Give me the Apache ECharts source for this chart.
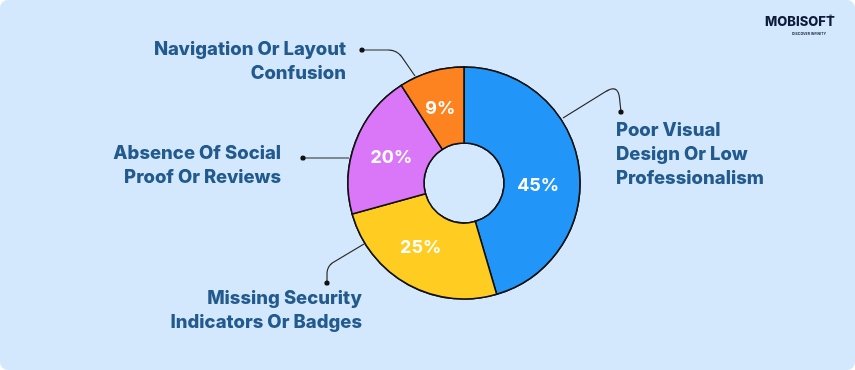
<!DOCTYPE html>
<html>
<head>
<meta charset="utf-8">
<script src="https://cdn.jsdelivr.net/npm/echarts@6/dist/echarts.min.js"></script>
<style>
html,body{margin:0;padding:0;background:#ffffff;}
#wrap{width:855px;height:370px;background:#d3e8fd;border-radius:8px;overflow:hidden;}
#chart{width:855px;height:370px;}
</style>
</head>
<body>
<div id="wrap"><div id="chart"></div></div>
<script>
// ---- data ----
const categories = [
  'Poor Visual\nDesign Or Low\nProfessionalism',
  'Missing Security\nIndicators Or Badges',
  'Absence Of Social\nProof Or Reviews',
  'Navigation Or Layout\nConfusion'
];
const values = [45, 25, 20, 9];
const colors = ['#2196f8', '#ffcd22', '#da77f8', '#fc8320'];

// ---- layout of outside labels (annotation placement) ----
const labelSpots = [
  {x: 616, y: 118, align: 'left',  line: [[563,118],[618,84],[621,112]], r: 14},
  {x: 362, y: 286, align: 'right', line: [[364,244],[327,266],[327,283]], r: 8},
  {x: 281, y: 141, align: 'right', line: [[349,158],[326,158],[303,158]], r: 0},
  {x: 346, y: 37,  align: 'right', line: [[415,76],[397,50],[362,50]], r: 9}
];
// small nudges of the inner percentage labels
const innerNudge = [[-6, 14], [-4, -6], [3, 4], [-1, 3]];

function cornerPoints(p0, p1, p2, r) {
  if (!r) return [p0, p1, p2];
  const d1 = Math.hypot(p1[0]-p0[0], p1[1]-p0[1]);
  const d2 = Math.hypot(p2[0]-p1[0], p2[1]-p1[1]);
  const a = [p1[0] - (p1[0]-p0[0]) / d1 * r, p1[1] - (p1[1]-p0[1]) / d1 * r];
  const b = [p1[0] + (p2[0]-p1[0]) / d2 * r, p1[1] + (p2[1]-p1[1]) / d2 * r];
  const pts = [p0, a];
  const n = 10;
  for (let i = 1; i < n; i++) {
    const t = i / n, u = 1 - t;
    pts.push([u*u*a[0] + 2*u*t*p1[0] + t*t*b[0], u*u*a[1] + 2*u*t*p1[1] + t*t*b[1]]);
  }
  pts.push(b, p2);
  return pts;
}

const textColor = '#235a8d';
const font = 'Inter, "Noto Sans", sans-serif';

const pieData = categories.map((c, i) => ({
  name: c, value: values[i], itemStyle: {color: colors[i]}
}));

const chart = echarts.init(document.getElementById('chart'), null, {renderer: 'canvas'});

const dots = labelSpots.map(s => ({
  type: 'circle',
  shape: {cx: s.line[2][0], cy: s.line[2][1], r: 2.6},
  style: {fill: '#111'},
  z: 100
}));

chart.setOption({
  backgroundColor: 'transparent',
  animation: false,
  series: [
    {
      type: 'pie',
      center: [464, 183],
      radius: [40, 116],
      startAngle: 90,
      clockwise: true,
      silent: true,
      data: pieData,
      itemStyle: {borderColor: '#111', borderWidth: 1.6},
      label: {
        show: true,
        position: 'outside',
        formatter: '{b}',
        color: textColor,
        fontFamily: font,
        fontWeight: 800,
        fontSize: 18.5,
        lineHeight: 24
      },
      labelLine: {
        show: true,
        lineStyle: {color: '#2b2b2b', width: 1.2}
      },
      labelLayout: function (params) {
        const s = labelSpots[params.dataIndex];
        return {
          x: s.x, y: s.y, align: s.align, verticalAlign: 'top',
          labelLinePoints: cornerPoints(s.line[0], s.line[1], s.line[2], s.r)
        };
      },
      z: 2
    },
    {
      type: 'pie',
      center: [464, 183],
      radius: [40, 116],
      startAngle: 90,
      clockwise: true,
      silent: true,
      data: pieData,
      itemStyle: {borderColor: '#111', borderWidth: 1.6},
      label: {
        show: true,
        position: 'inside',
        formatter: '{c}%',
        color: '#ffffff',
        fontFamily: font,
        fontWeight: 700,
        fontSize: 18
      },
      labelLine: {show: false},
      labelLayout: function (params) {
        const n = innerNudge[params.dataIndex];
        return {dx: n[0], dy: n[1]};
      },
      z: 3
    }
  ],
  graphic: dots.concat([
    {
      type: 'text', left: 765, top: 16, z: 100,
      style: {text: 'MOBISOFT', fill: '#0d1b3a', font: '800 13px Inter, sans-serif'}
    },
    {
      type: 'text', left: 829, top: 14, z: 100,
      style: {text: '®', fill: '#0d1b3a', font: '5px Inter, sans-serif'}
    },
    {
      type: 'text', left: 792, top: 32, z: 100,
      style: {text: 'DISCOVER INFINITY', fill: '#2a3550', font: '700 3.5px Inter, sans-serif'}
    }
  ])
});
</script>
</body>
</html>
